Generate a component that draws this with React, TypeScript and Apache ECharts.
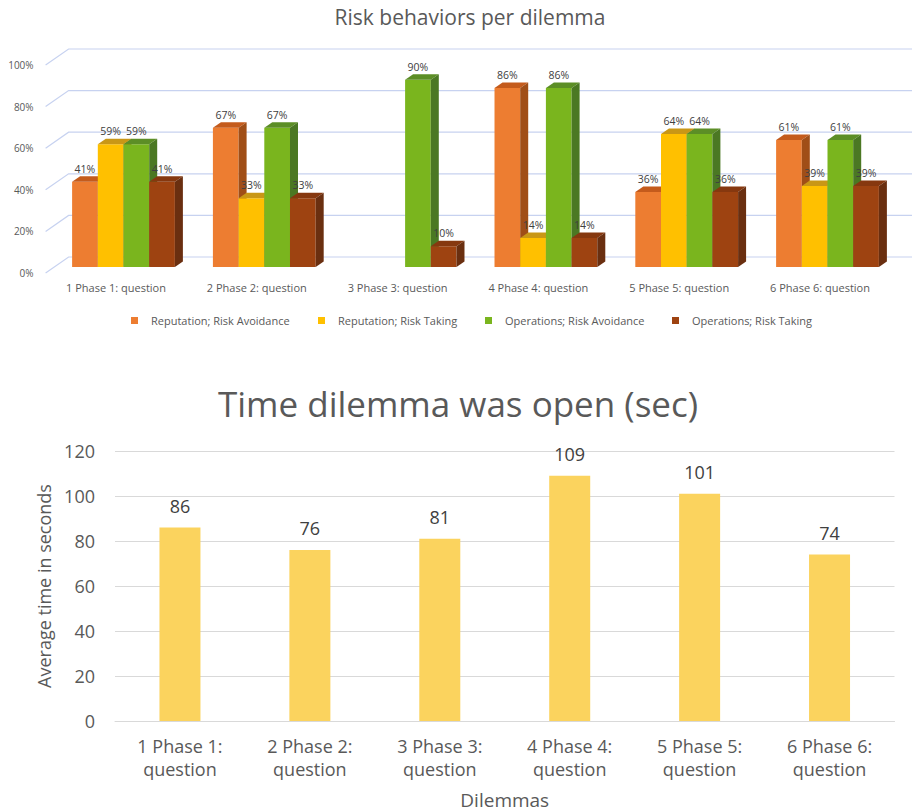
import React, { useEffect, useRef } from "react";
import * as echarts from "echarts";

// ---- Risk behaviours per dilemma (percentages) ----
const PHASES_TOP = [
  "1 Phase 1: question",
  "2 Phase 2: question",
  "3 Phase 3: question",
  "4 Phase 4: question",
  "5 Phase 5: question",
  "6 Phase 6: question",
];
const REPUTATION_AVOIDANCE = [41, 67, null, 86, 36, 61];
const REPUTATION_TAKING = [59, 33, null, 14, 64, 39];
const OPERATIONS_AVOIDANCE = [59, 67, 90, 86, 64, 61];
const OPERATIONS_TAKING = [41, 33, 10, 14, 36, 39];
const PERCENT_TICKS = [0, 20, 40, 60, 80, 100];

// ---- Time each dilemma was open (seconds) ----
const PHASES_BOTTOM = [
  "1 Phase 1:\nquestion",
  "2 Phase 2:\nquestion",
  "3 Phase 3:\nquestion",
  "4 Phase 4:\nquestion",
  "5 Phase 5:\nquestion",
  "6 Phase 6:\nquestion",
];
const AVG_SECONDS = [86, 76, 81, 109, 101, 74];

const FONT = "'Open Sans', 'Noto Sans', sans-serif";

// Bar faces: front, top, side
const SERIES_TOP = [
  { name: "Reputation; Risk Avoidance", values: REPUTATION_AVOIDANCE, colors: ["#ED7D31", "#C45B1C", "#A04E17"] },
  { name: "Reputation; Risk Taking", values: REPUTATION_TAKING, colors: ["#FFC000", "#C99716", "#A67C00"] },
  { name: "Operations; Risk Avoidance", values: OPERATIONS_AVOIDANCE, colors: ["#7AB51E", "#5C8E26", "#4B7823"] },
  { name: "Operations; Risk Taking", values: OPERATIONS_TAKING, colors: ["#9E4311", "#86380F", "#6A2F10"] },
];

// 3D geometry (pixels)
const WALL_DX = 23;
const WALL_DY = -16;
const FRONT_DX = 7.5;
const FRONT_DY = -6;
const DEPTH_DX = 8;
const DEPTH_DY = -5.5;
const BAR_SHARE = 0.1825;

function make3dBarSeries(idx: number) {
  const s = SERIES_TOP[idx];
  const [front, top, side] = s.colors;
  return {
    type: "custom",
    name: s.name,
    xAxisIndex: 0,
    yAxisIndex: 0,
    z: 3,
    clip: false,
    itemStyle: { color: front },
    data: s.values
      .map((v, i) => (v == null ? null : [i, v]))
      .filter((d) => d !== null),
    renderItem: (params: any, api: any) => {
      const cat = api.value(0);
      const val = api.value(1);
      const base = api.coord([cat, 0]);
      const tip = api.coord([cat, val]);
      const band = api.size([1, 0])[0];
      const w = band * BAR_SHARE;
      const x0 = base[0] - 2 * w + FRONT_DX + idx * w;
      const y0 = base[1] + FRONT_DY;
      const y1 = tip[1] + FRONT_DY;
      return {
        type: "group",
        children: [
          {
            type: "rect",
            shape: { x: x0, y: y1, width: w, height: y0 - y1 },
            style: { fill: front },
          },
          {
            type: "polygon",
            shape: {
              points: [
                [x0, y1],
                [x0 + w, y1],
                [x0 + w + DEPTH_DX, y1 + DEPTH_DY],
                [x0 + DEPTH_DX, y1 + DEPTH_DY],
              ],
            },
            style: { fill: top },
          },
          {
            type: "polygon",
            shape: {
              points: [
                [x0 + w, y1],
                [x0 + w, y0],
                [x0 + w + DEPTH_DX, y0 + DEPTH_DY],
                [x0 + w + DEPTH_DX, y1 + DEPTH_DY],
              ],
            },
            style: { fill: side },
          },
          {
            type: "text",
            x: x0 + w / 2,
            y: y1 - 13,
            z2: 100,
            style: {
              text: `${val}%`,
              fill: "#404040",
              fontSize: 10.5,
              fontFamily: FONT,
              align: "center",
              verticalAlign: "middle",
            },
          },
        ],
      };
    },
  };
}

export default function App() {
  const ref = useRef<HTMLDivElement>(null);

  useEffect(() => {
    if (!ref.current) return;
    const chart = echarts.init(ref.current, null, { renderer: "svg" });

    const option: any = {
      animation: false,
      backgroundColor: "#ffffff",
      textStyle: { fontFamily: FONT },
      graphic: [
        {
          type: "text",
          x: 470,
          y: 17,
          style: {
            text: "Risk behaviors per dilemma",
            fill: "#595959",
            fontSize: 21,
            fontFamily: FONT,
            align: "center",
            verticalAlign: "middle",
          },
        },
        {
          type: "text",
          x: 458,
          y: 403,
          style: {
            text: "Time dilemma was open (sec)",
            fill: "#595959",
            fontSize: 35,
            fontFamily: FONT,
            align: "center",
            verticalAlign: "middle",
          },
        },
      ],
      legend: SERIES_TOP.map((s, i) => ({
        data: [s.name],
        left: [126, 313, 480, 667][i],
        top: 310,
        itemWidth: 7,
        itemHeight: 7,
        icon: "rect",
        textStyle: { color: "#595959", fontSize: 11, fontFamily: FONT, padding: [0, 0, 0, 8] },
        selectedMode: false,
      })),
      grid: [
        { left: 45.6, top: 65, width: 844.8, height: 208 },
        { left: 115, top: 451, width: 779.5, height: 270 },
      ],
      xAxis: [
        {
          type: "category",
          gridIndex: 0,
          data: PHASES_TOP,
          axisLine: { show: false },
          axisTick: { show: false },
          axisLabel: { color: "#595959", fontSize: 11, margin: 9, fontFamily: FONT },
        },
        {
          type: "category",
          gridIndex: 1,
          data: PHASES_BOTTOM,
          axisLine: { lineStyle: { color: "#D9D9D9" } },
          axisTick: { show: false },
          axisLabel: { color: "#595959", fontSize: 18, lineHeight: 23, margin: 13, fontFamily: FONT },
          name: "Dilemmas",
          nameLocation: "middle",
          nameGap: 69,
          nameTextStyle: { color: "#595959", fontSize: 19, fontFamily: FONT },
        },
      ],
      yAxis: [
        {
          type: "value",
          gridIndex: 0,
          min: 0,
          max: 100,
          interval: 20,
          axisLine: { show: false },
          axisTick: { show: false },
          splitLine: { show: false },
          axisLabel: { color: "#595959", fontSize: 10, margin: 12, formatter: "{value}%", fontFamily: FONT },
        },
        {
          type: "value",
          gridIndex: 1,
          min: 0,
          max: 120,
          interval: 20,
          axisLine: { show: false },
          axisTick: { show: false },
          splitLine: { lineStyle: { color: "#D9D9D9" } },
          axisLabel: { color: "#595959", fontSize: 18, margin: 20, fontFamily: FONT },
          name: "Average time in seconds",
          nameLocation: "middle",
          nameGap: 60,
          nameTextStyle: { color: "#595959", fontSize: 18, fontFamily: FONT },
        },
      ],
      series: [
        // floor-to-back-wall gridlines of the 3D plot
        {
          type: "custom",
          name: "wall",
          xAxisIndex: 0,
          yAxisIndex: 0,
          z: 1,
          clip: false,
          silent: true,
          data: PERCENT_TICKS.map((v) => [0, v]),
          renderItem: (params: any, api: any) => {
            const cs = params.coordSys;
            const y = api.coord([0, api.value(1)])[1];
            return {
              type: "polyline",
              shape: {
                points: [
                  [cs.x, y],
                  [cs.x + WALL_DX, y + WALL_DY],
                  [cs.x + cs.width + WALL_DX, y + WALL_DY],
                ],
              },
              style: { stroke: "#C7D2F0", lineWidth: 1.2, fill: "none" },
            };
          },
        },
        ...SERIES_TOP.map((_, i) => make3dBarSeries(i)),
        {
          type: "bar",
          name: "Average time",
          xAxisIndex: 1,
          yAxisIndex: 1,
          data: AVG_SECONDS,
          barWidth: 41,
          itemStyle: { color: "#FBD35E" },
          label: {
            show: true,
            position: "top",
            distance: 13,
            color: "#404040",
            fontSize: 18,
            fontFamily: FONT,
          },
        },
      ],
    };

    chart.setOption(option);
    return () => chart.dispose();
  }, []);

  return (
    <div
      ref={ref}
      style={{ position: "fixed", left: 0, top: 0, width: 912, height: 811, background: "#fff" }}
    />
  );
}
